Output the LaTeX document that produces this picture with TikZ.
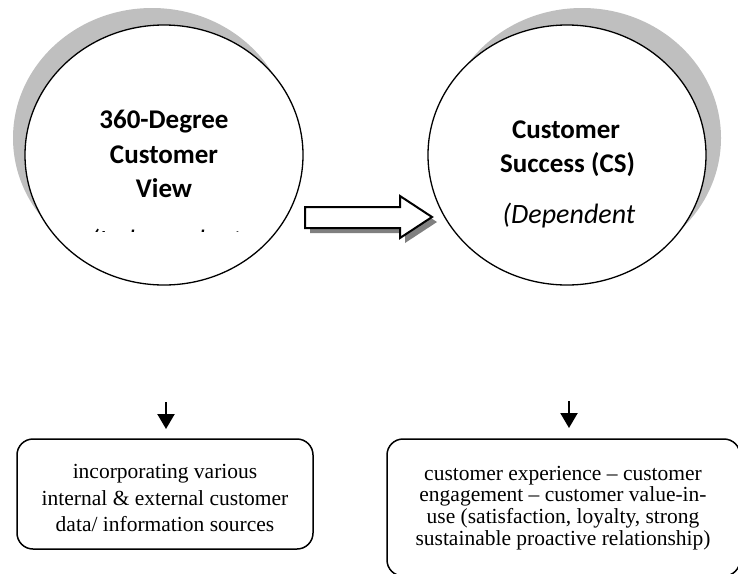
\documentclass[tikz,border=0pt]{standalone}
\usepackage{fontspec}
\setmainfont{Liberation Serif}
\newfontfamily\calfont{Carlito}
\usetikzlibrary{arrows.meta,shapes.geometric}
\tikzset{
  circ/.style={ellipse, draw=black, line width=1.3pt, fill=white, minimum width=278pt, minimum height=260pt, inner sep=0pt},
  circshadow/.style={ellipse, fill=black!25, minimum width=278pt, minimum height=260pt, inner sep=0pt},
  ctext/.style={font=\calfont\bfseries\fontsize{27}{32}\selectfont, anchor=base},
  itext/.style={font=\calfont\itshape\fontsize{28}{32}\selectfont, anchor=base},
  roundbox/.style={draw=black, line width=1.5pt, rounded corners=16pt, fill=white, inner sep=0pt},
  btext/.style={font=\fontsize{21.5}{21.7}\selectfont, align=center},
  btextwide/.style={font=\fontsize{21.5}{26.5}\selectfont, align=center},
  downarrow/.style={line width=2.2pt, -{Triangle[length=15pt,width=17pt]}},
  blockarrow/.style={draw=black, line width=2pt, fill=white, line join=miter},
  blockshadow/.style={fill=black!50}
}
\begin{document}
\begin{tikzpicture}[x=1pt,y=-1pt]
\useasboundingbox (0,0) rectangle (738,573);
% left circle
\node[circshadow] (lcs) at (152,138) {};
\node[circ] (lc) at (164,155) {};
\node[ctext] (lt1) at (164,128) {360-Degree};
\node[ctext] (lt2) at (164,163) {Customer};
\node[ctext] (lt3) at (164,197) {View};
\begin{scope}
  \clip (20,100) rectangle (310,231);
  \node[itext] (lt4) at (166,249) {(Independent};
\end{scope}
% right circle
\node[circshadow] (rcs) at (582,138) {};
\node[circ] (rc) at (567,155) {};
\node[ctext] (rt1) at (566,138) {Customer};
\node[ctext] (rt2) at (567.5,172) {Success (CS)};
\node[itext] (rt3) at (569,223) {(Dependent};
% block arrow
\fill[blockshadow] (310,212) -- (405,212) -- (405,201) -- (437,222) -- (405,243) -- (405,233) -- (310,233) -- cycle;
\draw[blockarrow] (305,207) -- (400,207) -- (400,196) -- (432,217) -- (400,238) -- (400,228) -- (305,228) -- cycle;
% boxes
\node[roundbox, minimum width=296pt, minimum height=110pt] (lb) at (165,494) {};
\node[btextwide] (lbt) at (165,498) {incorporating various\\internal \& external customer\\data/ information sources};
\node[roundbox, minimum width=353pt, minimum height=137pt] (rb) at (563.5,507.5) {};
\node[btext] (rbt) at (563,508) {customer experience -- customer\\engagement -- customer value-in-\\use (satisfaction, loyalty, strong\\sustainable proactive relationship)};
% small arrows
\coordinate (la1) at (166,402);
\coordinate (la2) at (166,429);
\coordinate (ra1) at (569,401);
\coordinate (ra2) at (569,428);
\draw[downarrow] (la1) -- (la2);
\draw[downarrow] (ra1) -- (ra2);
\end{tikzpicture}
\end{document}
